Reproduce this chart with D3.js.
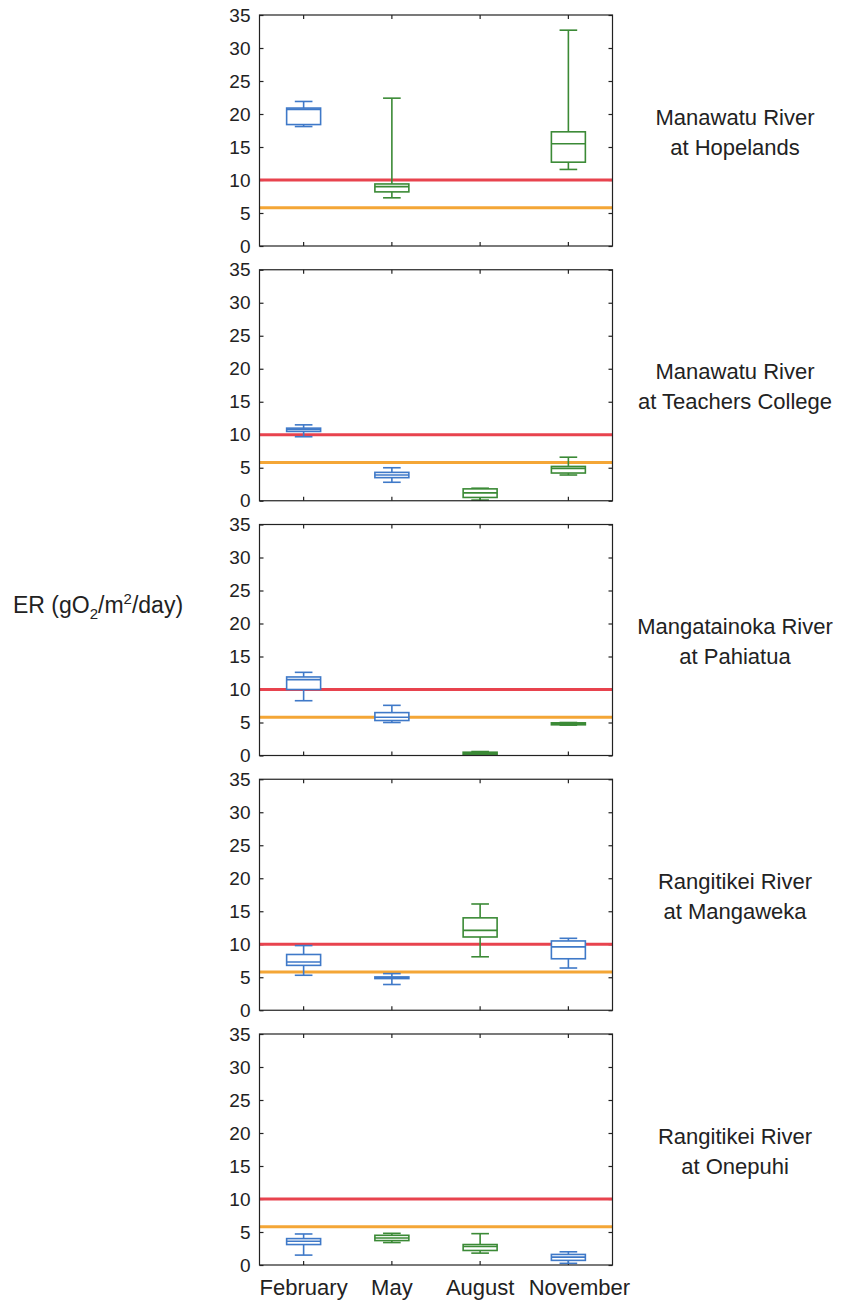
<!DOCTYPE html>
<html>
<head>
	<title>ER box plots</title>
	<style type="text/css">
		body { margin: 0; background: #fff; }
		text { font-family: "Liberation Sans", Arial, sans-serif; fill: #222; }
		.frame { fill: none; stroke: #222; stroke-width: 1.2; }
		.axis path { display: none; }
		.axis line { stroke: #222; stroke-width: 1.2; }
	</style>
</head>
<body>
	<div id="chart"></div>
	<script src="https://d3js.org/d3.v7.min.js"></script>
	<script type="text/javascript">
		// months on the x axis
		var months = ["February", "May", "August", "November"];

		// station names, two lines each
		var stations = [
			["Manawatu River", "at Hopelands"],
			["Manawatu River", "at Teachers College"],
			["Mangatainoka River", "at Pahiatua"],
			["Rangitikei River", "at Mangaweka"],
			["Rangitikei River", "at Onepuhi"]
		];

		// box stats per station: [month, low, q1, median, q3, high, colour group]
		var hopelands = [
			["February", 18.1, 18.4, 20.7, 20.9, 21.9, "b"],
			["May", 7.3, 8.2, 9.0, 9.4, 22.4, "g"],
			["November", 11.6, 12.7, 15.5, 17.3, 32.7, "g"]
		];
		var teachersCollege = [
			["February", 9.7, 10.5, 10.8, 11.0, 11.5, "b"],
			["May", 2.8, 3.5, 3.9, 4.3, 5.0, "b"],
			["August", 0.1, 0.5, 1.2, 1.8, 1.9, "g"],
			["November", 3.9, 4.2, 4.9, 5.2, 6.6, "g"]
		];
		var pahiatua = [
			["February", 8.3, 10.0, 11.5, 11.9, 12.6, "b"],
			["May", 5.0, 5.3, 5.8, 6.5, 7.6, "b"],
			["August", 0.05, 0.1, 0.3, 0.5, 0.6, "g"],
			["November", 4.6, 4.65, 4.8, 4.95, 5.0, "g"]
		];
		var mangaweka = [
			["February", 5.3, 6.8, 7.3, 8.45, 9.8, "b"],
			["May", 3.9, 4.8, 4.9, 5.05, 5.55, "b"],
			["August", 8.1, 11.1, 12.1, 14.0, 16.1, "g"],
			["November", 6.4, 7.8, 9.6, 10.5, 10.9, "b"]
		];
		var onepuhi = [
			["February", 1.5, 3.1, 3.6, 4.0, 4.7, "b"],
			["May", 3.4, 3.7, 4.1, 4.5, 4.8, "g"],
			["August", 1.8, 2.2, 2.8, 3.1, 4.75, "g"],
			["November", 0.25, 0.7, 1.2, 1.6, 2.0, "b"]
		];
		var panels = [hopelands, teachersCollege, pahiatua, mangaweka, onepuhi];

		// guideline levels drawn across every panel
		var guidelines = [10, 5.8];
		var guideColors = ["#e8434e", "#f4a636"];

		var yTicks = [0, 5, 10, 15, 20, 25, 30, 35];

		var width = 844, height = 1300;
		var left = 259.5, right = 612.5;
		var top0 = 15, step = 254.75, panelH = 231;
		var colors = { b: "#3f79c8", g: "#3b8a36" };

		var svg = d3.select("#chart").append("svg")
			.attr("width", width)
			.attr("height", height);

		var x = d3.scaleBand().domain(months).range([left, right]);
		var bw = x.bandwidth();
		var boxW = bw * 0.385, capW = bw * 0.2;

		panels.forEach(function(data, i) {
			var top = top0 + i * step;
			var y = d3.scaleLinear().domain([0, 35]).range([top + panelH, top]);
			var g = svg.append("g");

			// axes, ticks pointing inward
			g.append("g").attr("class", "axis")
				.attr("transform", "translate(" + left + ",0)")
				.call(d3.axisLeft(y).tickValues(yTicks).tickSize(-4).tickPadding(9))
				.selectAll("text").style("font-size", "19px");
			g.append("g").attr("class", "axis")
				.attr("transform", "translate(" + right + ",0)")
				.call(d3.axisRight(y).tickValues(yTicks).tickSize(-4).tickFormat(""));
			g.append("g").attr("class", "axis")
				.attr("transform", "translate(0," + top + ")")
				.call(d3.axisTop(x).tickSize(-4).tickFormat(""));
			var bottom = g.append("g").attr("class", "axis")
				.attr("transform", "translate(0," + (top + panelH) + ")")
				.call(d3.axisBottom(x).tickSize(-4).tickPadding(14).tickFormat(i == panels.length - 1 ? null : ""));
			bottom.selectAll("text").style("font-size", "22px");
			// November label sits a bit right of its tick in the original
			bottom.selectAll(".tick text").attr("dx", function(d) { return d == "November" ? 11 : 0; });

			// guideline lines
			guidelines.forEach(function(v, k) {
				g.append("line")
					.attr("x1", left).attr("x2", right)
					.attr("y1", y(v)).attr("y2", y(v))
					.attr("stroke", guideColors[k])
					.attr("stroke-width", 3);
			});

			// boxes
			var box = g.selectAll(".box").data(data).enter().append("g")
				.attr("class", "box")
				.attr("stroke", function(d) { return colors[d[6]]; })
				.attr("stroke-width", 1.6)
				.attr("fill", "none");
			var cx = function(d) { return x(d[0]) + bw / 2; };

			box.append("line")
				.attr("x1", cx).attr("x2", cx)
				.attr("y1", function(d) { return y(d[5]); })
				.attr("y2", function(d) { return y(d[4]); });
			box.append("line")
				.attr("x1", cx).attr("x2", cx)
				.attr("y1", function(d) { return y(d[2]); })
				.attr("y2", function(d) { return y(d[1]); });
			[1, 5].forEach(function(k) {
				box.append("line")
					.attr("x1", function(d) { return cx(d) - capW / 2; })
					.attr("x2", function(d) { return cx(d) + capW / 2; })
					.attr("y1", function(d) { return y(d[k]); })
					.attr("y2", function(d) { return y(d[k]); });
			});
			box.append("rect")
				.attr("x", function(d) { return cx(d) - boxW / 2; })
				.attr("width", boxW)
				.attr("y", function(d) { return y(d[4]); })
				.attr("height", function(d) { return y(d[2]) - y(d[4]); })
				.attr("fill", "#fff");
			box.append("line")
				.attr("x1", function(d) { return cx(d) - boxW / 2; })
				.attr("x2", function(d) { return cx(d) + boxW / 2; })
				.attr("y1", function(d) { return y(d[3]); })
				.attr("y2", function(d) { return y(d[3]); });

			// frame
			g.append("rect").attr("class", "frame")
				.attr("x", left).attr("y", top)
				.attr("width", right - left).attr("height", panelH);

			// station label
			var mid = top + panelH / 2;
			var lbl = g.append("text")
				.attr("text-anchor", "middle")
				.style("font-size", "22px");
			stations[i].forEach(function(s, k) {
				lbl.append("tspan")
					.attr("x", 735)
					.attr("y", mid - 6 + k * 30)
					.text(s);
			});
		});

		// y axis title
		var title = svg.append("text")
			.attr("x", 13).attr("y", 613)
			.style("font-size", "23px");
		title.append("tspan").text("ER (gO");
		title.append("tspan").attr("dy", 6).style("font-size", "15px").text("2");
		title.append("tspan").attr("dy", -6).text("/m");
		title.append("tspan").attr("dy", -9).style("font-size", "15px").text("2");
		title.append("tspan").attr("dy", 9).text("/day)");
	</script>
</body>
</html>
